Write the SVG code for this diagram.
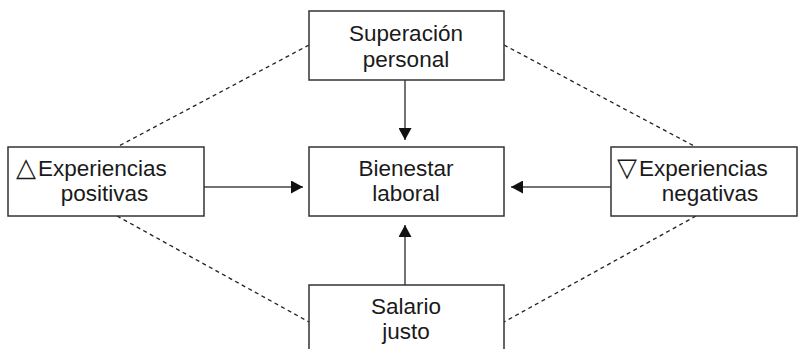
<svg xmlns="http://www.w3.org/2000/svg" width="800" height="349" viewBox="0 0 800 349">
<style>
.box{fill:#fff;stroke:#333;stroke-width:1.5}
.t{font-family:"Liberation Sans","DejaVu Sans",Arial,sans-serif;font-size:22.5px;fill:#1a1a1a}
.c{text-anchor:middle}
.arr{stroke:#444;stroke-width:1.5;fill:none;marker-end:url(#ah)}
.dash{stroke:#222;stroke-width:1.3;stroke-dasharray:4 3.5;fill:none}
.sym{font-family:"DejaVu Sans",sans-serif;font-size:26px}
</style>
<defs>
<marker id="ah" viewBox="0 0 12 13" refX="12" refY="6.5" markerWidth="12" markerHeight="13" markerUnits="userSpaceOnUse" orient="auto">
<path d="M0,0 L12,6.5 L0,13 Z" fill="#111"/>
</marker>
</defs>
<g id="connectors">
<line class="dash" x1="309" y1="45" x2="117" y2="147"/>
<line class="dash" x1="504" y1="45" x2="696" y2="147"/>
<line class="dash" x1="117" y1="216" x2="309" y2="322"/>
<line class="dash" x1="696" y1="216" x2="504" y2="322"/>
<line class="arr" x1="405" y1="80" x2="405" y2="140"/>
<line class="arr" x1="405" y1="285" x2="405" y2="225"/>
<line class="arr" x1="204" y1="187" x2="303" y2="187"/>
<line class="arr" x1="611" y1="187" x2="511" y2="187"/>
</g>
<g id="superacion">
<rect class="box" x="309" y="11" width="195" height="69"/>
<text class="t c" x="406" y="41">Superación</text>
<text class="t c" x="406" y="66.5">personal</text>
</g>
<g id="bienestar">
<rect class="box" x="309" y="147" width="195" height="69"/>
<text class="t c" x="406" y="175.5">Bienestar</text>
<text class="t c" x="406" y="201">laboral</text>
</g>
<g id="positivas">
<rect class="box" x="8" y="147" width="196" height="69"/>
<text class="t" x="16" y="175.5"><tspan class="sym">△</tspan><tspan dx="2">Experiencias</tspan></text>
<text class="t c" x="104.5" y="201">positivas</text>
</g>
<g id="negativas">
<rect class="box" x="611" y="147" width="186" height="69"/>
<text class="t" x="617" y="175.5"><tspan class="sym">▽</tspan><tspan dx="2">Experiencias</tspan></text>
<text class="t c" x="710" y="201">negativas</text>
</g>
<g id="salario">
<rect class="box" x="309" y="285" width="195" height="80"/>
<text class="t c" x="406" y="313.5">Salario</text>
<text class="t c" x="406" y="339">justo</text>
</g>
</svg>
